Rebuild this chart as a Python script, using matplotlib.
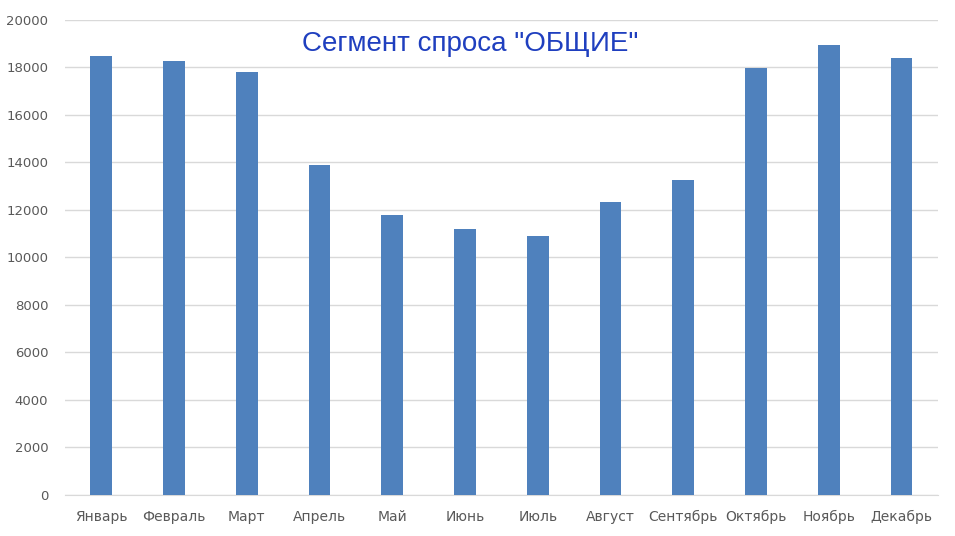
import matplotlib
matplotlib.use("Agg")
import matplotlib.pyplot as plt
import numpy as np

# Monthly demand, segment "ОБЩИЕ"
months = ["Январь", "Февраль", "Март", "Апрель", "Май", "Июнь",
          "Июль", "Август", "Сентябрь", "Октябрь", "Ноябрь", "Декабрь"]
demand = [18470, 18270, 17810, 13900, 11760, 11180,
          10900, 12320, 13260, 17970, 18940, 18390]
y_ticks = list(range(0, 20001, 2000))

fig = plt.figure(figsize=(9.55, 5.36), dpi=100)
ax = fig.add_axes([0.068, 0.0765, 0.914, 0.887])

x = np.arange(len(months))
ax.bar(x, demand, width=0.30, color="#4F81BD", zorder=3)

ax.set_xlim(-0.5, len(months) - 0.5)
ax.set_ylim(0, 20000)
ax.set_yticks(y_ticks)
ax.set_xticks(x)
ax.set_xticklabels(months)
ax.grid(axis="y", color="#D9D9D9", linewidth=1, zorder=0)

for side in ["top", "right", "left"]:
    ax.spines[side].set_visible(False)
ax.spines["bottom"].set_color("#D9D9D9")
ax.tick_params(axis="both", length=0, labelcolor="#595959")
ax.tick_params(axis="x", pad=11, labelsize=10)
ax.tick_params(axis="y", pad=12, labelsize=9.5)
for lbl in ax.get_xticklabels() + ax.get_yticklabels():
    lbl.set_family("DejaVu Sans")

fig.text(0.492, 0.918, 'Сегмент спроса "ОБЩИЕ"', ha="center", va="center",
         fontsize=20, color="#1F3FBF", family="Liberation Sans")

fig.savefig("out.png", dpi=100)
